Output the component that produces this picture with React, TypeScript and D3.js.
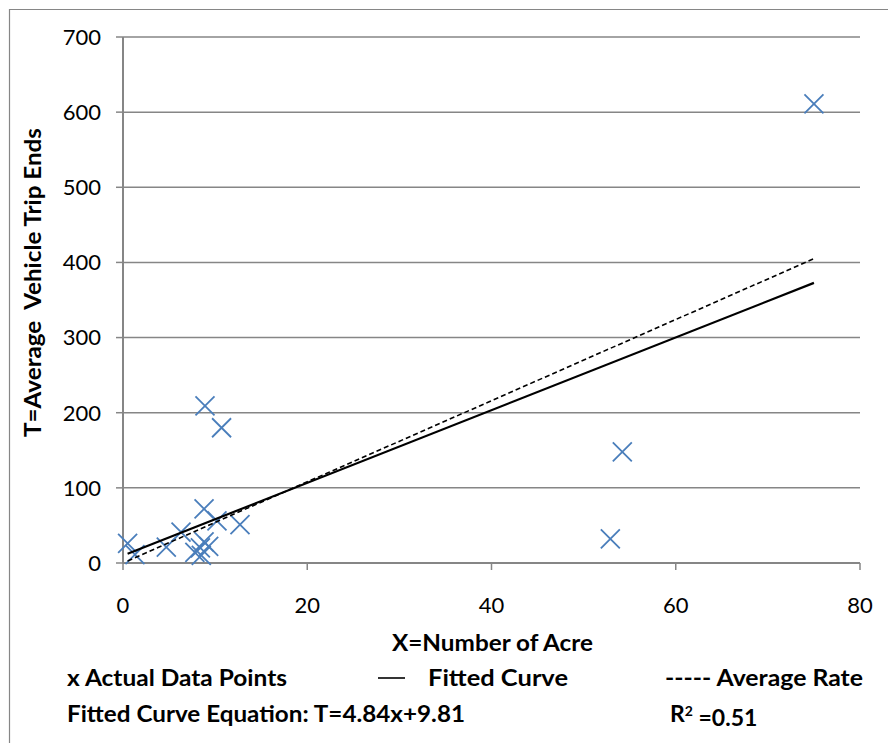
import React from "react";
import * as d3 from "d3";

// Data
const acres: number[] = [0.5, 1.3, 4.7, 6.3, 8.8, 8.9, 10.7, 10.2, 12.7, 7.8, 8.4, 8.8, 9.3, 8.5, 52.9, 54.2, 75.0];
const tripEnds: number[] = [26, 11, 21, 41, 72, 209, 180, 56, 51, 14, 20, 28, 22, 10, 32, 148, 611];
const fitSlope = 4.84;
const fitIntercept = 9.81;
const averageRate = 5.4;
const xTicks: number[] = [0, 20, 40, 60, 80];
const yTicks: number[] = [0, 100, 200, 300, 400, 500, 600, 700];

const W = 888;
const H = 743;
const FONT = "Lato, 'Open Sans', sans-serif";
const GRID = "#868686";
const BLUE = "#4A7EBB";

export default function App() {
  const x = d3.scaleLinear().domain([0, 80]).range([123, 860]);
  const y = d3.scaleLinear().domain([0, 700]).range([563, 37]);
  const xMin = d3.min(acres) as number;
  const xMax = d3.max(acres) as number;
  const fitted = d3
    .line<number>()
    .x((d) => x(d))
    .y((d) => y(fitSlope * d + fitIntercept))([xMin, xMax]) as string;
  const avg = d3
    .line<number>()
    .x((d) => x(d))
    .y((d) => y(averageRate * d))([xMin, xMax]) as string;
  const m = 9.5;
  const bold = { fontSize: 23, fontWeight: 700 as const };
  return (
    <svg
      width={W}
      height={H}
      style={{ position: "absolute", left: 0, top: 0, background: "#fff" }}
      fontFamily={FONT}
    >
      <rect x={0} y={0} width={W} height={H} fill="#fff" />
      {/* outer frame */}
      <path d={`M9.5,${H + 5} V9.5 H${W + 5}`} fill="none" stroke={GRID} strokeWidth={1.2} />
      {/* gridlines */}
      {yTicks
        .filter((t) => t > 0)
        .map((t) => (
          <line key={"g" + t} x1={x(0)} x2={x(80)} y1={y(t)} y2={y(t)} stroke={GRID} strokeWidth={1.5} />
        ))}
      {/* y ticks */}
      {yTicks.map((t) => (
        <line key={"yt" + t} x1={x(0) - 7} x2={x(0)} y1={y(t)} y2={y(t)} stroke={GRID} strokeWidth={1.5} />
      ))}
      {/* x ticks */}
      {xTicks.map((t) => (
        <line key={"xt" + t} x1={x(t)} x2={x(t)} y1={y(0)} y2={y(0) + 7} stroke={GRID} strokeWidth={1.5} />
      ))}
      {/* axes */}
      <line x1={x(0)} x2={x(0)} y1={y(700)} y2={y(0)} stroke={GRID} strokeWidth={2} />
      <line x1={x(0)} x2={x(80)} y1={y(0)} y2={y(0)} stroke={GRID} strokeWidth={2} />
      {/* tick labels */}
      {yTicks.map((t) => (
        <text key={"yl" + t} x={101} y={y(t)} dy="0.36em" textAnchor="end" fontSize={22} fill="#000">
          {t}
        </text>
      ))}
      {xTicks.map((t) => (
        <text key={"xl" + t} x={x(t)} y={605} dy="0.36em" textAnchor="middle" fontSize={22} fill="#000">
          {t}
        </text>
      ))}
      {/* points */}
      {acres.map((a, i) => (
        <path
          key={"p" + i}
          d={`M${x(a) - m},${y(tripEnds[i]) - m}L${x(a) + m},${y(tripEnds[i]) + m}M${x(a) - m},${y(tripEnds[i]) + m}L${x(a) + m},${y(tripEnds[i]) - m}`}
          stroke={BLUE}
          strokeWidth={1.8}
          fill="none"
        />
      ))}
      {/* lines */}
      <path d={avg} stroke="#000" strokeWidth={1.6} strokeDasharray="5,3" fill="none" />
      <path d={fitted} stroke="#000" strokeWidth={2.2} fill="none" />
      {/* axis titles */}
      <text x={392} y={643} dy="0.36em" {...bold} textLength={201} lengthAdjust="spacingAndGlyphs">
        X=Number of Acre
      </text>
      <text
        transform={`translate(33,437) rotate(-90)`}
        dy="0.36em"
        {...bold}
        textLength={309}
        lengthAdjust="spacingAndGlyphs"
        style={{ whiteSpace: "pre" }}
      >
        {"T=Average  Vehicle Trip Ends"}
      </text>
      {/* legend text */}
      <g {...bold} style={{ whiteSpace: "pre" }}>
        <text x={67} y={678} dy="0.36em" textLength={220} lengthAdjust="spacingAndGlyphs">
          {"x Actual Data  Points"}
        </text>
        <line x1={378} x2={405} y1={678} y2={678} stroke="#000" strokeWidth={1.6} />
        <text x={428} y={678} dy="0.36em" textLength={140} lengthAdjust="spacingAndGlyphs">
          {"Fitted Curve"}
        </text>
        <text x={665} y={678} dy="0.36em" textLength={198} lengthAdjust="spacingAndGlyphs">
          {"----- Average  Rate"}
        </text>
        <text x={67} y={714} dy="0.36em" textLength={398} lengthAdjust="spacingAndGlyphs">
          {"Fitted Curve Equation:  T=4.84x+9.81"}
        </text>
        <text x={670} y={714} dy="0.36em">
          R<tspan dy="-0.45em" fontSize={14}>2</tspan>
          <tspan dy="0.45em">{" =0.51"}</tspan>
        </text>
      </g>
    </svg>
  );
}
